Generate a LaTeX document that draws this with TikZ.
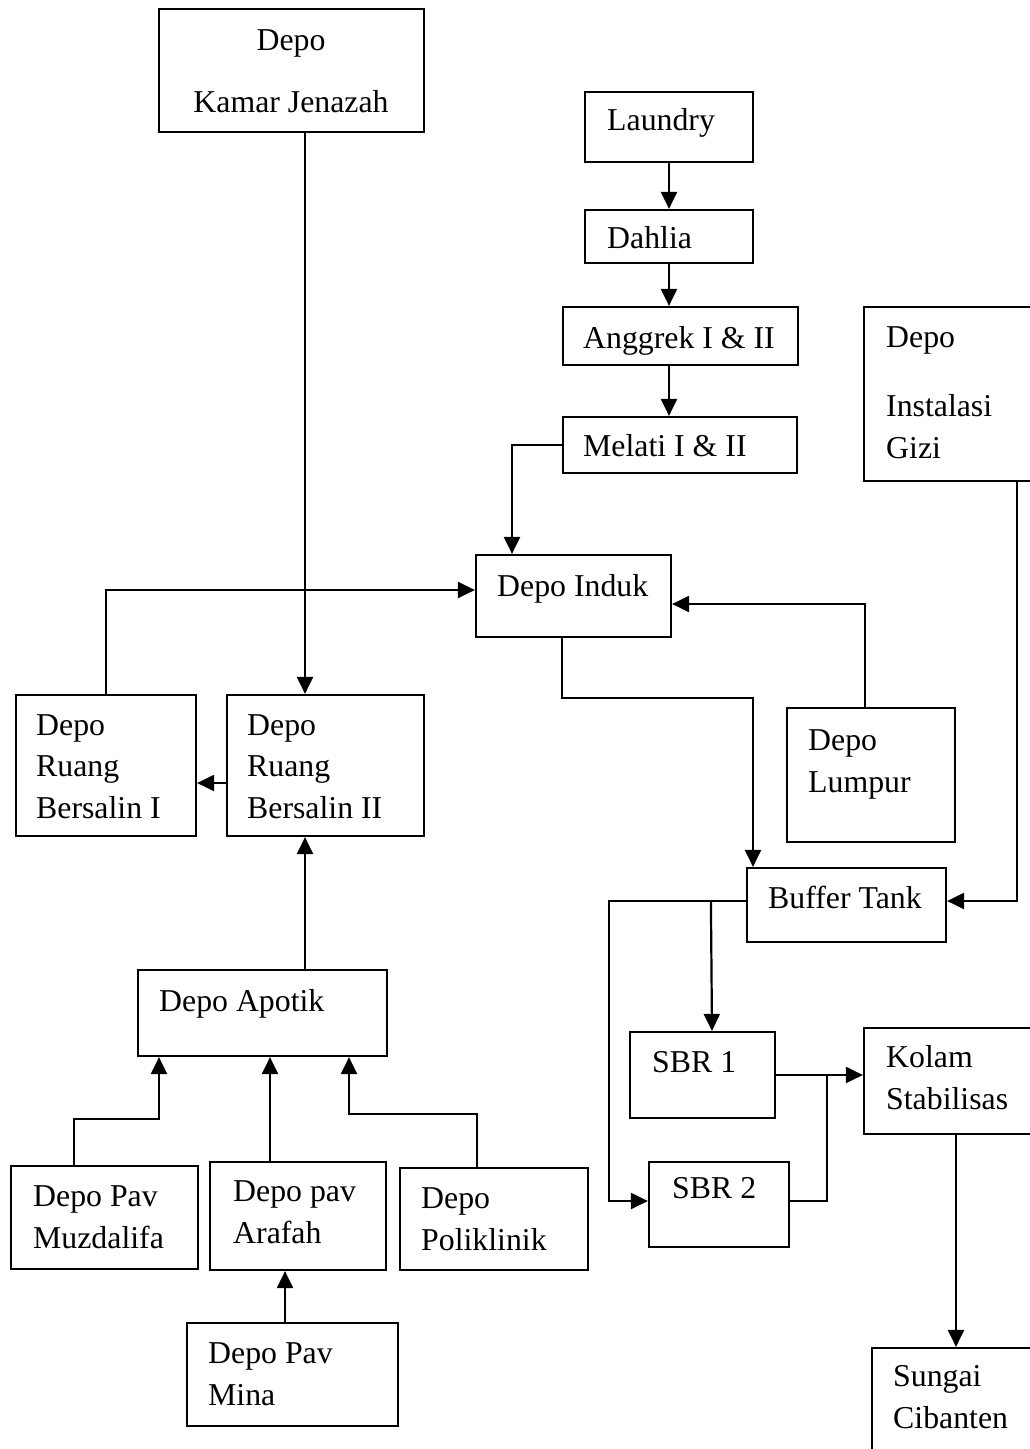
\documentclass[tikz,border=0pt]{standalone}
\usepackage{fontspec}
\setmainfont{Liberation Serif}
\usetikzlibrary{arrows.meta}

\tikzset{
  box/.style={draw, line width=2.2pt, inner sep=0pt},
  txt/.style={anchor=base west, inner sep=0pt, align=left, font=\fontsize{31.8}{41.5}\selectfont},
  arr/.style={line width=2.2pt, -{Triangle[length=17pt,width=16pt]}},
  ln/.style={line width=2.2pt}
}

\begin{document}
\begin{tikzpicture}[x=1pt,y=-1pt]

  \clip (0,0) rectangle (1030,1449);
  \fill[white] (0,0) rectangle (1030,1449);

  %boxes
  \node[box, minimum width=265, minimum height=123] (kamar) at (291.5,70.5) {};
  \node[box, minimum width=168, minimum height=70] (laundry) at (669,127) {};
  \node[box, minimum width=168, minimum height=53] (dahlia) at (669,236.5) {};
  \node[box, minimum width=235, minimum height=58] (anggrek) at (680.5,336) {};
  \node[box, minimum width=234, minimum height=56] (melati) at (680,445) {};
  \node[box, minimum width=196, minimum height=174] (gizi) at (962,394) {};
  \node[box, minimum width=195, minimum height=82] (induk) at (573.5,596) {};
  \node[box, minimum width=180, minimum height=141] (bers1) at (106,765.5) {};
  \node[box, minimum width=197, minimum height=141] (bers2) at (325.5,765.5) {};
  \node[box, minimum width=168, minimum height=134] (lumpur) at (871,775) {};
  \node[box, minimum width=199, minimum height=74] (buffer) at (846.5,905) {};
  \node[box, minimum width=145, minimum height=86] (sbr1) at (702.5,1075) {};
  \node[box, minimum width=196, minimum height=106] (kolam) at (962,1081) {};
  \node[box, minimum width=140, minimum height=85] (sbr2) at (719,1204.5) {};
  \node[box, minimum width=249, minimum height=86] (apotik) at (262.5,1013) {};
  \node[box, minimum width=187, minimum height=103] (muzd) at (104.5,1217.5) {};
  \node[box, minimum width=176, minimum height=108] (arafah) at (298,1216) {};
  \node[box, minimum width=188, minimum height=102] (poli) at (494,1219) {};
  \node[box, minimum width=211, minimum height=103] (mina) at (292.5,1374.5) {};
  \node[box, minimum width=188, minimum height=132] (sungai) at (966,1414) {};

  %texts (base = last line)
  \node[txt, anchor=base] (kamar-a) at (291,50) {Depo};
  \node[txt, anchor=base] (kamar-b) at (291,112) {Kamar Jenazah};
  \node[txt] (laundry-t) at (607,130) {Laundry};
  \node[txt] (dahlia-t) at (607,248) {Dahlia};
  \node[txt] (anggrek-t) at (583,348) {Anggrek I \& II};
  \node[txt] (melati-t) at (583,456) {Melati I \& II};
  \node[txt] (gizi-a) at (886,347) {Depo};
  \node[txt] (gizi-b) at (886,458) {Instalasi\\Gizi};
  \node[txt] (induk-t) at (497,596) {Depo Induk};
  \node[txt] (bers1-t) at (36,818) {Depo\\Ruang\\Bersalin I};
  \node[txt] (bers2-t) at (247,818) {Depo\\Ruang\\Bersalin II};
  \node[txt] (lumpur-t) at (808,792) {Depo\\Lumpur};
  \node[txt] (buffer-t) at (768,908) {Buffer Tank};
  \node[txt] (sbr1-t) at (652,1072) {SBR 1};
  \node[txt] (kolam-t) at (886,1109) {Kolam\\Stabilisas};
  \node[txt] (sbr2-t) at (672,1198) {SBR 2};
  \node[txt] (apotik-t) at (159,1011) {Depo Apotik};
  \node[txt] (muzd-t) at (33,1248) {Depo Pav\\Muzdalifa};
  \node[txt] (arafah-t) at (233,1243) {Depo pav\\Arafah};
  \node[txt] (poli-t) at (421,1250) {Depo\\Poliklinik};
  \node[txt] (mina-t) at (208,1405) {Depo Pav\\Mina};
  \node[txt] (sungai-t) at (893,1428) {Sungai\\Cibanten};

  %top chain
  \draw[arr] (laundry.south) -- (dahlia.north);
  \draw[arr] (dahlia.south) -- (dahlia.south |- anggrek.north);
  \draw[arr] (dahlia.south |- anggrek.south) -- (dahlia.south |- melati.north);
  \draw[arr] (melati.west) -| ([xshift=-61.5]induk.north);

  %into depo induk
  \draw[arr] ([xshift=13.5]kamar.south) -- ([xshift=-20.5]bers2.north);
  \draw[arr] (bers1.north) |- ([yshift=6]induk.west);
  \draw[arr] ([xshift=-6]lumpur.north) |- ([yshift=-8]induk.east);
  \draw[arr] ([yshift=-17.5]bers2.west) -- ([yshift=-17.5]bers1.east);

  %apotik
  \draw[arr] ([xshift=42.5]apotik.north) -- ([xshift=-20.5]bers2.south);
  \draw[arr] ([xshift=-30.5]muzd.north) |- ([xshift=-103.5,yshift=-62]apotik.south) -- ([xshift=-103.5]apotik.south);
  \draw[arr] ([xshift=-28]arafah.north) -- ([xshift=7.5]apotik.south);
  \draw[arr] ([xshift=-17]poli.north) |- ([xshift=86.5,yshift=-57]apotik.south) -- ([xshift=86.5]apotik.south);
  \draw[arr] ([xshift=-7.5]mina.north) -- ([xshift=-13]arafah.south);

  %treatment
  \draw[arr] ([xshift=-11.5]induk.south) -- ++(0,60) -| ([xshift=-93.5]buffer.north);
  \draw[arr] ([xshift=55]gizi.south) |- ([yshift=4]buffer.east);
  \draw[arr] ([yshift=4]buffer.west) -- ++(-137,0) |- ([yshift=3.5]sbr2.west);
  \draw[arr] ([xshift=-35,yshift=4]buffer.west) -- ([xshift=9.5]sbr1.north);
  \draw[arr] (sbr1.east) -- ([yshift=6]kolam.west);
  \draw[ln] ([yshift=3.5]sbr2.east) -| ([xshift=51]sbr1.east);
  \draw[arr] ([xshift=-6]kolam.south) -- ([xshift=-10]sungai.north);

\end{tikzpicture}
\end{document}
